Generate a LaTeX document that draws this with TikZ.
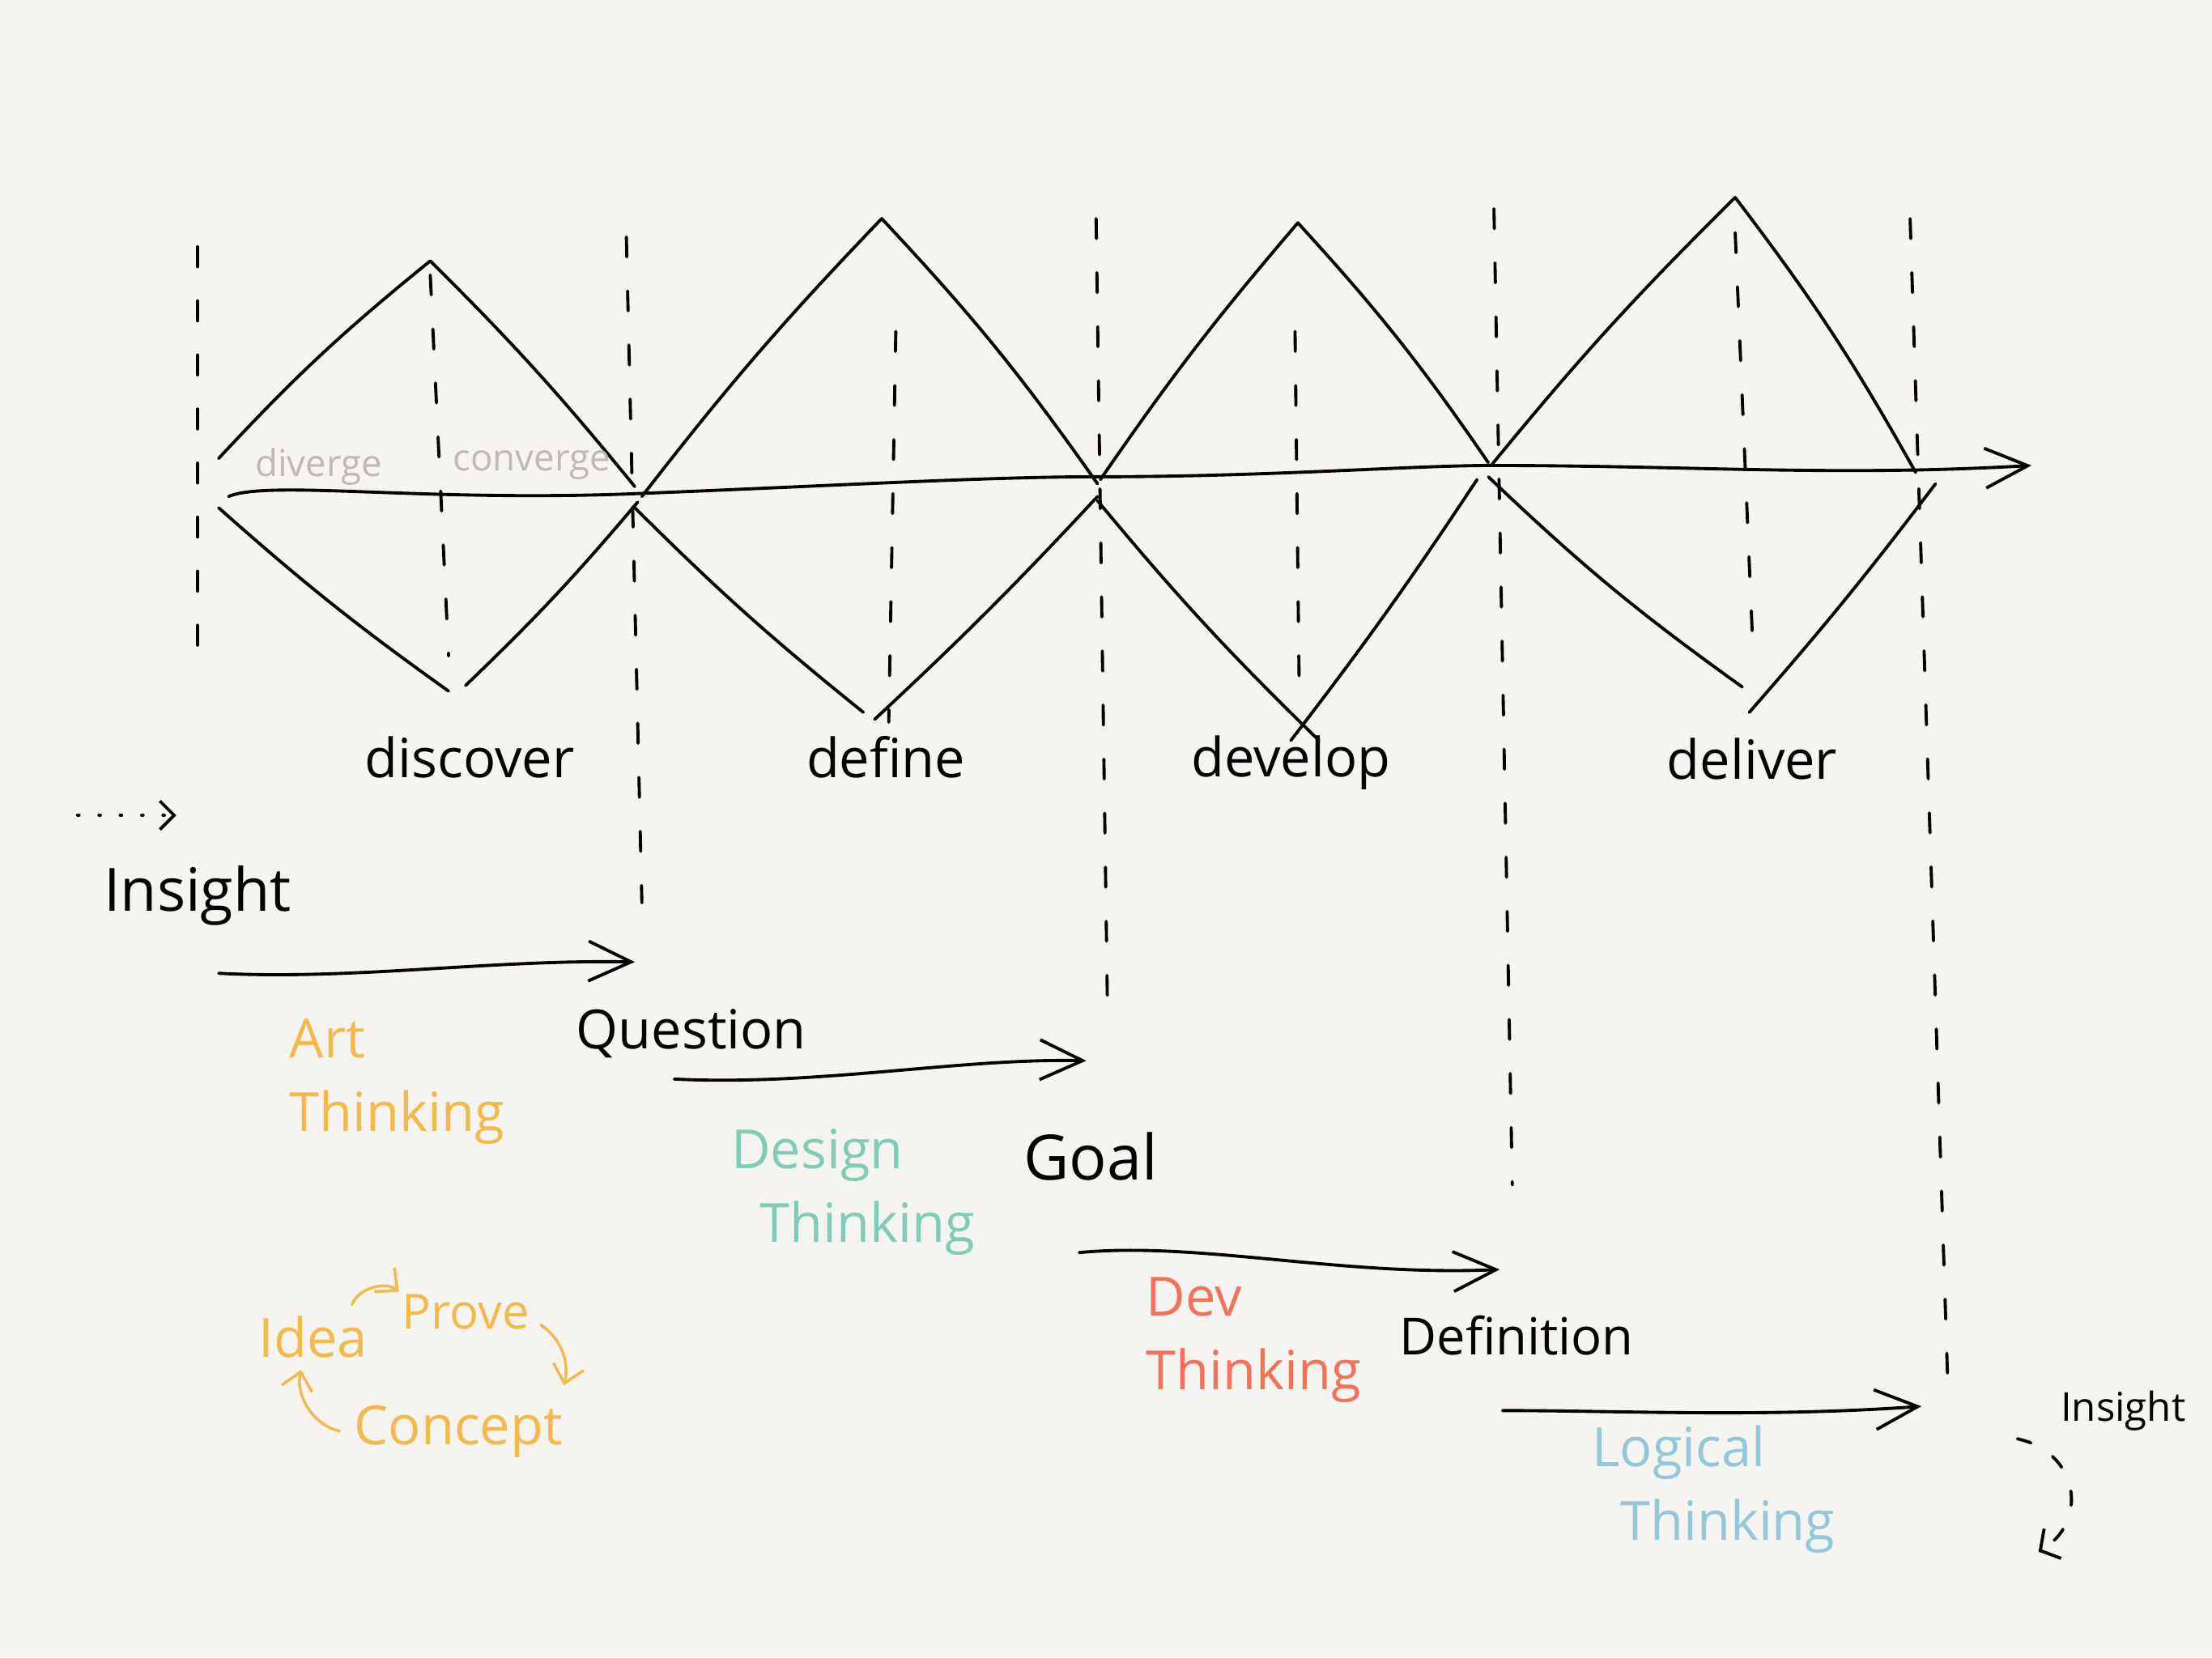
\documentclass[tikz,border=0pt]{standalone}
\usepackage{fontspec}
\setmainfont{Open Sans}
\usetikzlibrary{arrows.meta}
\definecolor{paper}{HTML}{F5F4F0}
\definecolor{hintgray}{HTML}{BDB9B3}
\definecolor{artcol}{HTML}{F3B94D}
\definecolor{designcol}{HTML}{7FCDB8}
\definecolor{devcol}{HTML}{F2735A}
\definecolor{logiccol}{HTML}{93C8D8}
\begin{document}
\begin{tikzpicture}[x=0.017423cm,y=-0.017423cm]
\tikzstyle{ink}=[line width=1.1pt,line cap=round,line join=round]
\tikzstyle{dashline}=[ink,dash pattern=on 7pt off 12pt]
\tikzstyle{flow}=[ink,-{Straight Barb[length=15pt,width=14pt]}]
\tikzstyle{word}=[inner sep=0pt,font=\fontsize{19}{22}\selectfont]
\tikzstyle{hint}=[inner sep=0pt,text=hintgray,font=\fontsize{13}{16}\selectfont]
\tikzstyle{school}=[inner sep=0pt,anchor=north west,align=left,font=\fontsize{19}{26}\selectfont]
\tikzstyle{loopflow}=[ink,line width=1pt,artcol,shorten <=1pt,shorten >=1pt,-{Straight Barb[length=6pt,width=11pt]}]
\useasboundingbox[fill=paper] (0,0) rectangle (1568,1175);

\draw[dashline] (140,175) -- (140,478);
\draw[dashline] (444,168) -- (455,640);
\draw[dashline] (777,155) -- (785,712);
\draw[dashline] (1059,148) -- (1072,840);
\draw[dashline] (1354,155) -- (1381,990);
\draw[dashline] (305,195) -- (318,465);
\draw[dashline] (635,235) -- (630,512);
\draw[dashline] (918,235) -- (921,492);
\draw[dashline] (1230,165) -- (1243,470);

\draw[ink] (155,325) to[bend left=4] (305,185) to[bend left=3] (450,345);
\draw[ink] (155,360) to[bend right=3] (318,490);
\draw[ink] (330,486) to[bend right=3] (452,356);
\draw[ink] (455,352) to[bend left=3] (625,155) to[bend left=4] (778,343);
\draw[ink] (450,360) to[bend right=3] (612,505);
\draw[ink] (620,510) to[bend right=2] (778,352);
\draw[ink] (780,340) to[bend left=3] (920,158) to[bend left=4] (1055,328);
\draw[ink] (778,355) to[bend right=3] (935,525);
\draw[ink] (915,525) to[bend right=2] (1047,340);
\draw[ink] (1057,330) to[bend left=3] (1230,140) to[bend left=4] (1358,335);
\draw[ink] (1055,338) to[bend right=4] (1235,487);
\draw[ink] (1240,505) to[bend right=2] (1372,343);

\path (162,352) coordinate(s0) (1440,330) coordinate(s1);
\draw[flow] (s0) .. controls (190,340) and (300,356) .. (450,350) .. controls (600,344) and (700,338) .. (778,338) .. controls (900,338) and (1000,330) .. (1057,330) .. controls (1200,330) and (1300,338) .. (s1);

\path (226,331) node[hint](diverge){diverge} (377,330) node[hint](converge){converge};
\path (333,537) node[word](discover){discover} (628,537) node[word](define){define} (915,541) node[word](develop){develop} (1242,538) node[word](deliver){deliver};

\path (140,635) node[word,font=\fontsize{21}{24}\selectfont](insight){Insight} (490,733) node[word](question){Question} (773,820) node[word,font=\fontsize{22}{24}\selectfont](goal){Goal};
\path (1075,947) node[word,font=\fontsize{18}{22}\selectfont](definition){Definition} (1505,1000) node[word,font=\fontsize{14}{16}\selectfont](insightR){Insight};

\path (55,578) coordinate(p0) (125,578) coordinate(p1);
\draw[ink,dash pattern=on 0.5pt off 7pt,-{Straight Barb[length=5pt,width=10pt]}] (p0) -- (p1);

\path (155,690) coordinate(q0) (450,682) coordinate(q1) (478,765) coordinate(g0) (770,752) coordinate(g1);
\path (765,888) coordinate(d0) (1063,900) coordinate(d1) (1065,1000) coordinate(n0) (1362,997) coordinate(n1);
\draw[flow] (q0) .. controls (250,695) and (350,680) .. (q1);
\draw[flow] (g0) .. controls (580,770) and (680,750) .. (g1);
\draw[flow] (d0) .. controls (850,880) and (950,905) .. (d1);
\draw[flow] (n0) .. controls (1150,1000) and (1250,1005) .. (n1);

\path (1430,1020) coordinate(k0) (1445,1100) coordinate(k1);
\draw[ink,dash pattern=on 5pt off 9pt,-{Straight Barb[length=5pt,width=12pt]}] (k0) .. controls (1475,1030) and (1480,1080) .. (k1);

\path (205,722) node[school,artcol](art){Art\\Thinking} (518,800) node[school,designcol](design){Design\\\hspace*{10pt}Thinking};
\path (812,905) node[school,devcol](dev){Dev\\Thinking} (1128,1010) node[school,logiccol](logic){Logical\\\hspace*{10pt}Thinking};

\path (222,948) node[word,artcol](idea){Idea} (330,930) node[word,artcol,font=\fontsize{17}{20}\selectfont](prove){Prove} (325,1015) node[word,artcol](concept){Concept};
\draw[loopflow] ([xshift=-6pt,yshift=3pt]idea.north east) to[bend left=55] (prove.north west);
\draw[loopflow] ([xshift=3pt,yshift=-4pt]prove.east) to[bend left=35] ([yshift=6pt]concept.north east);
\draw[loopflow] ([xshift=-4pt]concept.west) to[bend left=45] ([xshift=-4pt,yshift=-3pt]idea.south);
\end{tikzpicture}
\end{document}
